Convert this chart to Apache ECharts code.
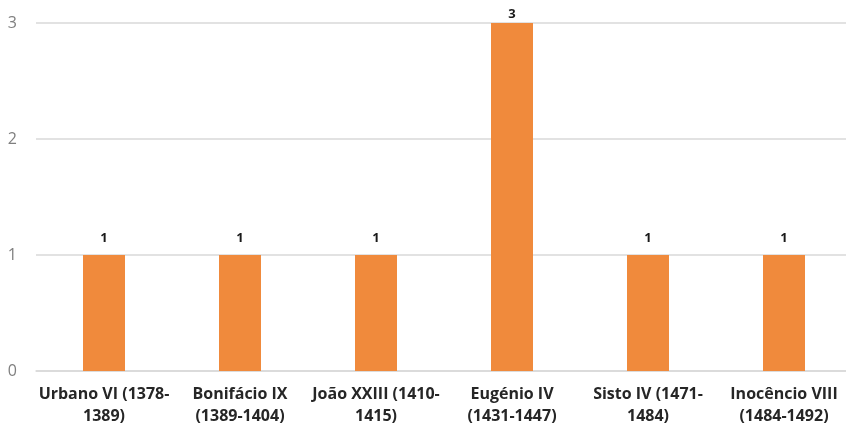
<!DOCTYPE html>
<html>
<head>
<meta charset="utf-8">
<script src="https://cdn.jsdelivr.net/npm/echarts@6/dist/echarts.min.js"></script>
<style>
  html, body { margin: 0; padding: 0; background: #fff; overflow: hidden; }
  #chart { width: 852px; height: 430px; }
</style>
</head>
<body>
<div id="chart"></div>
<script>
// Papas e número de ocorrências
const categories = [
  'Urbano VI (1378-\n1389)',
  'Bonifácio IX\n(1389-1404)',
  'João XXIII (1410-\n1415)',
  'Eugénio IV\n(1431-1447)',
  'Sisto IV (1471-\n1484)',
  'Inocêncio VIII\n(1484-1492)'
];
const values = [1, 1, 1, 3, 1, 1];
const yTicks = [0, 1, 2, 3];

const yMax = yTicks[yTicks.length - 1];
// a label on a bar reaching the top of the axis is pulled closer so it stays inside the canvas
const barData = values.map(v => v >= yMax ? { value: v, label: { distance: 2 } } : v);

const chart = echarts.init(document.getElementById('chart'), null, { renderer: 'canvas' });
chart.setOption({
  animation: false,
  grid: { left: 36, top: 23, right: 0, bottom: 59, containLabel: false },
  xAxis: {
    type: 'category',
    data: categories,
    axisLine: { show: true, lineStyle: { color: '#d9d9d9', width: 1.5 } },
    axisTick: { show: false },
    axisLabel: {
      interval: 0,
      margin: 12,
      fontFamily: 'Open Sans',
      fontWeight: 'bold',
      fontSize: 16,
      lineHeight: 22,
      color: '#262626'
    }
  },
  yAxis: {
    type: 'value',
    min: yTicks[0],
    max: yMax,
    interval: 1,
    axisLine: { show: false },
    axisTick: { show: false },
    splitLine: { lineStyle: { color: '#d9d9d9', width: 1.5 } },
    axisLabel: {
      margin: 19,
      fontFamily: 'Open Sans',
      fontSize: 16,
      color: '#7f7f7f'
    }
  },
  series: [{
    type: 'bar',
    data: barData,
    barWidth: 42,
    itemStyle: { color: '#F08A3C' },
    label: {
      show: true,
      position: 'top',
      distance: 10,
      fontFamily: 'Open Sans',
      fontWeight: 'bold',
      fontSize: 13,
      color: '#1a1a1a'
    }
  }]
});
</script>
</body>
</html>
